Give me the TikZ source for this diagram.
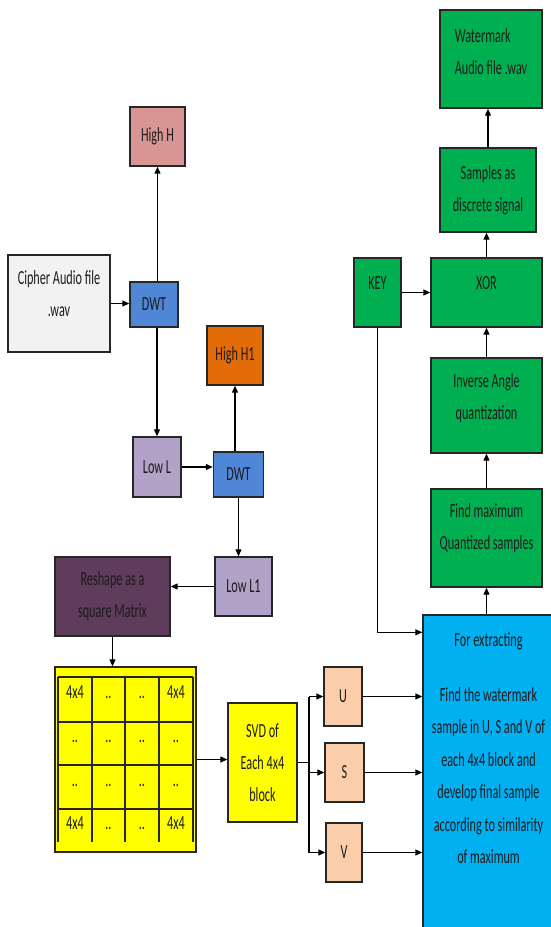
\documentclass[tikz,border=0pt]{standalone}
\usepackage{fontspec}
\setmainfont{Carlito}[FakeStretch=0.61]
\usepackage{xcolor}
\definecolor{Edge}{HTML}{262626}
\definecolor{Ink}{HTML}{1C1C1C}
\definecolor{Cipher}{HTML}{F2F2F2}
\definecolor{Wave}{HTML}{4F86D6}
\definecolor{HighA}{HTML}{D99594}
\definecolor{HighB}{HTML}{E36C09}
\definecolor{Low}{HTML}{B3A2C7}
\definecolor{Plum}{HTML}{5F3B5C}
\definecolor{Block}{HTML}{FFFF00}
\definecolor{Peach}{HTML}{FACDAB}
\definecolor{Leaf}{HTML}{00B050}
\definecolor{Sky}{HTML}{00B0F0}
\usetikzlibrary{arrows.meta,positioning}
\tikzset{
  box/.style={draw=Edge,line width=1.4pt,inner sep=0pt,align=center,text=Ink,
    font=\fontsize{20}{32}\selectfont},
  boxsize/.style 2 args={minimum width=#1,minimum height=#2},
  flow/.style={-{Triangle[length=7pt,width=6pt]},line width=1.2pt,draw=black},
  wire/.style={line width=1.2pt,draw=black},
  gridline/.style={line width=1.1pt,draw=Edge},
  cell/.style={font=\fontsize{20}{22}\selectfont,text=Ink,inner sep=0pt,anchor=base}
}

\begin{document}
\begin{tikzpicture}[x=1pt,y=-1pt]
  \useasboundingbox (0,0) rectangle (551,927);
  % left branch: decomposition
  \node[box, fill=Cipher, boxsize={102pt}{97pt}, text depth=20pt] (cipher) at (59,303.5) {Cipher Audio file\\.wav};
  \node[box, fill=Wave, boxsize={48pt}{45pt}] (dwtA) at (154,304.5) {DWT};
  \node[box, fill=HighA, boxsize={55pt}{59pt}] (highH) at (157.5,136.5) {High H};
  \node[box, fill=Low, boxsize={48pt}{60pt}] (lowL) at (157,467) {Low L};
  \node[box, fill=Wave, boxsize={50pt}{45pt}] (dwtB) at (238.5,474.5) {DWT};
  \node[box, fill=HighB, boxsize={56pt}{59pt}] (highHB) at (235,355.5) {High H1};
  \node[box, fill=Low, boxsize={57pt}{59pt}] (lowLB) at (243.5,586.5) {Low L1};
  \node[box, fill=Plum, boxsize={115pt}{79pt}] (reshape) at (112.5,596.5) {Reshape as a\\square Matrix};
  % matrix of blocks
  \node[box, fill=Block, boxsize={141pt}{185pt}] (blocks) at (125.5,759.5) {};
  \foreach \gy in {677,722,765,809}
    \draw[gridline] (58,\gy) -- (193,\gy);
  \foreach \gx in {58,92,125,159,193}
    \draw[gridline] (\gx,677) -- (\gx,842);
  \foreach \row/\base/\corner in {1/698/4x4,2/742/..,3/786/..,4/829/4x4} {
    \node[cell] (c\row-1) at (75,\base) {\corner};
    \node[cell] (c\row-2) at (108.5,\base) {..};
    \node[cell] (c\row-3) at (142,\base) {..};
    \node[cell] (c\row-4) at (176,\base) {\corner};
  }
  \node[box, fill=Block, boxsize={69pt}{119pt}] (svd) at (262.5,762.5) {SVD of\\Each 4x4\\block};
  \node[box, fill=Peach, boxsize={38pt}{59pt}] (u) at (343,696.5) {U};
  \node[box, fill=Peach, boxsize={39pt}{59pt}] (s) at (344.5,772.5) {S};
  \node[box, fill=Peach, boxsize={36pt}{59pt}] (v) at (344,852.5) {V};
  \coordinate (fork) at (309,0);
  % extraction
  \node[box, fill=Sky, boxsize={131pt}{314pt},
    label={[anchor=north,yshift=-15pt,align=center,text=Ink,
      font=\fontsize{20}{32.5}\selectfont]north:For extracting\\[22pt]Find the watermark\\sample in U, S and V of\\each 4x4 block and\\develop final sample\\according to similarity\\of maximum}]
    (extract) at (488.5,772) {};
  \node[box, fill=Leaf, boxsize={111pt}{98pt}, text depth=22pt] (findmax) at (486.5,538) {Find maximum\\Quantized samples};
  \node[box, fill=Leaf, boxsize={111pt}{95pt}, text depth=18pt] (inverse) at (486.5,405.5) {Inverse Angle\\quantization};
  \node[box, fill=Leaf, boxsize={111pt}{69pt}, text depth=18pt] (xor) at (486.5,292.5) {XOR};
  \node[box, fill=Leaf, boxsize={47pt}{69pt}, text depth=18pt] (key) at (377.5,292.5) {KEY};
  \node[box, fill=Leaf, boxsize={96pt}{84pt}] (samples) at (488,190) {Samples as\\discrete signal};
  \node[box, fill=Leaf, boxsize={102pt}{98pt}, align=left, text depth=14pt] (watermark) at (491,59) {Watermark\\Audio file .wav};
  % connectors
  \draw[flow] (cipher.east) -- (cipher.east -| dwtA.west);
  \draw[flow] (dwtA.north -| highH) -- (highH.south);
  \draw[flow] (dwtA.south -| lowL) -- (lowL.north);
  \draw[flow] (lowL.east) -- (lowL.east -| dwtB.west);
  \draw[flow] (dwtB.north -| highHB) -- (highHB.south);
  \draw[flow] (dwtB.south) -- (dwtB.south |- lowLB.north);
  \draw[flow] (lowLB.west) -- (lowLB.west -| reshape.east);
  \draw[flow] (reshape.south) -- (reshape.south |- blocks.north);
  \draw[flow] (blocks.east) -- (blocks.east -| svd.west);
  \draw[wire] (svd.east) -- (svd.east -| fork);
  \draw[wire] (fork |- u) -- (fork |- v);
  \draw[flow] (fork |- u) -- (u.west);
  \draw[flow] (fork |- s) -- (s.west);
  \draw[flow] (fork |- v) -- (v.west);
  \draw[flow] (u.east) -- (u.east -| extract.west);
  \draw[flow] (s.east) -- (s.east -| extract.west);
  \draw[flow] (v.east) -- (v.east -| extract.west);
  \draw[flow] (key.south) |- ([yshift=-18pt]extract.north west);
  \draw[flow] (extract.north -| findmax) -- (findmax.south);
  \draw[flow] (findmax.north) -- (inverse.south);
  \draw[flow] (inverse.north) -- (xor.south);
  \draw[flow] (key.east) -- (xor.west);
  \draw[flow] (xor.north) -- (xor.north |- samples.south);
  \draw[flow] (samples.north) -- (samples.north |- watermark.south);
\end{tikzpicture}
\end{document}
